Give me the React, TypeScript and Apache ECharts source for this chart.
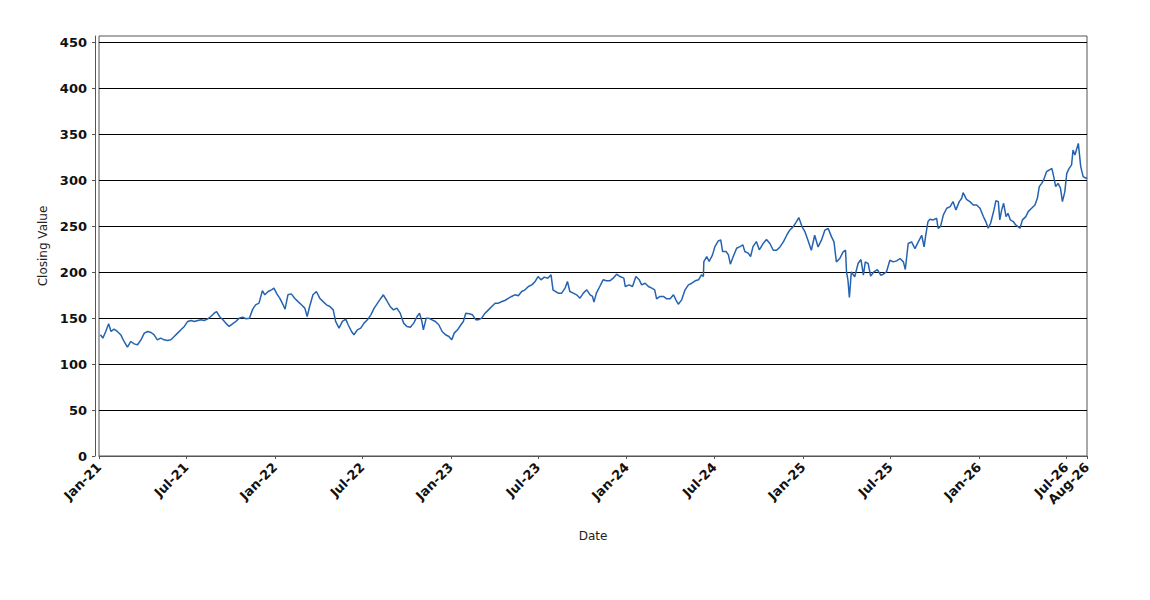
import React, { useEffect, useRef } from "react";
import * as echarts from "echarts";

// ---- data ----
const dates2021 = ["2021-01-04","2021-01-09","2021-01-15","2021-01-21","2021-01-26","2021-02-01","2021-02-08","2021-02-15","2021-02-22","2021-03-01","2021-03-08","2021-03-15","2021-03-22","2021-03-29","2021-04-05","2021-04-12","2021-04-19","2021-04-25","2021-05-02","2021-05-09","2021-05-16","2021-05-23","2021-05-30","2021-06-06","2021-06-13","2021-06-20","2021-06-27","2021-07-04","2021-07-11","2021-07-18","2021-07-25","2021-08-01","2021-08-07","2021-08-14","2021-08-21","2021-08-28","2021-09-02","2021-09-08","2021-09-15","2021-09-21","2021-09-28","2021-10-05","2021-10-12","2021-10-19","2021-10-26","2021-11-02","2021-11-09","2021-11-16","2021-11-22","2021-11-29","2021-12-06","2021-12-11","2021-12-18","2021-12-25","2021-12-30"];
const close2021 = [131.9,128.3,135.5,143.8,135.5,138,135.5,132,124.6,118.5,124.6,122,121,126.4,133.7,135.5,134.4,132,126.4,128.3,126.4,125.7,126.4,130,133.7,137.3,141,146.4,147.5,146.4,147.5,148.2,147.5,149,151.8,155.4,157.2,151.8,148.2,144.6,141,143.8,146.4,150,151,149.3,150,159.8,164.5,166.3,180,175.4,179,180.8,182.6];

const dates2022 = ["2022-01-05","2022-01-11","2022-01-18","2022-01-22","2022-01-28","2022-02-04","2022-02-11","2022-02-18","2022-02-25","2022-03-04","2022-03-09","2022-03-14","2022-03-21","2022-03-28","2022-04-04","2022-04-11","2022-04-18","2022-04-25","2022-05-02","2022-05-07","2022-05-14","2022-05-21","2022-05-28","2022-06-02","2022-06-09","2022-06-14","2022-06-21","2022-06-28","2022-07-05","2022-07-12","2022-07-19","2022-07-26","2022-08-02","2022-08-09","2022-08-14","2022-08-21","2022-08-28","2022-09-04","2022-09-11","2022-09-18","2022-09-25","2022-10-02","2022-10-09","2022-10-16","2022-10-23","2022-10-28","2022-11-02","2022-11-05","2022-11-11","2022-11-16","2022-11-23","2022-11-30","2022-12-07","2022-12-14","2022-12-21","2022-12-28"];
const close2022 = [176.4,171.7,164.5,159.8,175.4,176.4,171.7,168,164.5,160.9,151.8,162.7,175.4,179,171.7,168,164.5,162.7,159,146.4,139.1,146.4,148.9,142.8,135.5,131.9,137.3,139.1,144.6,148.2,153.6,160.9,166.3,171.7,175.4,169.2,162.7,159,160.9,155.4,144.6,141,140.2,144.6,151.8,155.4,146.4,137.3,150,150,148.2,146.4,142.8,135.5,131.9,130];

const dates2023 = ["2023-01-03","2023-01-08","2023-01-15","2023-01-22","2023-01-27","2023-02-01","2023-02-08","2023-02-15","2023-02-22","2023-02-27","2023-03-06","2023-03-13","2023-03-20","2023-03-27","2023-04-03","2023-04-10","2023-04-17","2023-04-23","2023-05-01","2023-05-07","2023-05-14","2023-05-21","2023-05-28","2023-06-04","2023-06-11","2023-06-18","2023-06-25","2023-07-01","2023-07-07","2023-07-14","2023-07-21","2023-07-28","2023-08-01","2023-08-06","2023-08-12","2023-08-19","2023-08-26","2023-08-31","2023-09-05","2023-09-12","2023-09-19","2023-09-26","2023-10-03","2023-10-10","2023-10-17","2023-10-22","2023-10-25","2023-10-30","2023-11-06","2023-11-13","2023-11-20","2023-11-27","2023-12-04","2023-12-11","2023-12-18","2023-12-26","2023-12-29"];
const close2023 = [126.4,133.7,137.3,142.8,146.4,155.4,154.7,153.6,148.2,148.2,150,155.4,159,162.7,166.3,166.3,168.1,169.2,171.7,173.6,175.4,174.3,179,180.8,184.4,186.2,189.9,195.3,191.7,194.6,193.5,197.1,180.8,179,177.2,177.2,182.6,189.9,179,177.2,175.4,171.7,177.2,180.8,175.4,173.6,167.4,177.2,184.4,191.7,190.6,190.6,193.5,197.8,195.3,193.5,184.4];

const dates2024 = ["2024-01-06","2024-01-13","2024-01-20","2024-01-27","2024-02-01","2024-02-08","2024-02-15","2024-02-22","2024-02-28","2024-03-03","2024-03-10","2024-03-17","2024-03-24","2024-03-31","2024-04-07","2024-04-12","2024-04-17","2024-04-24","2024-05-01","2024-05-08","2024-05-15","2024-05-22","2024-05-29","2024-06-04","2024-06-08","2024-06-09","2024-06-15","2024-06-20","2024-06-27","2024-07-02","2024-07-09","2024-07-14","2024-07-18","2024-07-25","2024-07-30","2024-08-03","2024-08-09","2024-08-16","2024-08-23","2024-08-29","2024-09-02","2024-09-09","2024-09-14","2024-09-19","2024-09-26","2024-10-02","2024-10-10","2024-10-17","2024-10-24","2024-10-31","2024-11-07","2024-11-14","2024-11-21","2024-11-28","2024-12-04","2024-12-11","2024-12-18","2024-12-23","2024-12-30"];
const close2024 = [186.2,184.4,195.3,191.7,186.2,188,184.4,182.6,180.8,171,173.6,173.6,171,171,175.4,169.9,165.2,169.9,180.8,186.2,188,190.6,191.7,197.1,195.3,211.6,217,211.6,218.8,227.9,234.1,235.1,222.5,222.5,218.8,208.7,217,226.1,227.9,229.7,222.5,220.7,217,227.9,233.3,224.3,231.2,235.5,231.2,223.9,223.9,227.5,233,240.2,245.7,249.3,254.7,259.4,249.3];

const dates2025 = ["2025-01-05","2025-01-11","2025-01-18","2025-01-25","2025-02-01","2025-02-08","2025-02-15","2025-02-22","2025-03-01","2025-03-06","2025-03-11","2025-03-18","2025-03-25","2025-03-30","2025-04-01","2025-04-04","2025-04-07","2025-04-11","2025-04-18","2025-04-25","2025-05-01","2025-05-06","2025-05-10","2025-05-16","2025-05-21","2025-05-28","2025-06-04","2025-06-11","2025-06-16","2025-06-23","2025-06-30","2025-07-07","2025-07-14","2025-07-21","2025-07-28","2025-08-01","2025-08-07","2025-08-14","2025-08-21","2025-08-28","2025-09-04","2025-09-09","2025-09-12","2025-09-17","2025-09-21","2025-09-28","2025-10-05","2025-10-08","2025-10-13","2025-10-19","2025-10-26","2025-11-02","2025-11-08","2025-11-14","2025-11-21","2025-11-26","2025-11-29","2025-12-06","2025-12-13","2025-12-20","2025-12-27"];
const close2025 = [243.8,234.8,223.9,240.2,227.5,234.8,245.7,247.5,238.4,233,211.2,214.9,222.1,223.9,200.4,191.3,172.5,200.4,194.9,209.4,213.8,196.7,211.2,209.4,195.7,200.4,202.9,196.7,197.8,200.4,213,211.2,212.3,214.9,211.2,202.9,231.2,233,225.7,233,240.2,227.5,238.8,255,257.6,256.9,258.7,247.8,249.6,262.3,269.6,271.4,276.8,267.8,276.8,280.4,286.6,279.3,276.8,273.2,273.2];

const dates2026 = ["2026-01-03","2026-01-10","2026-01-15","2026-01-20","2026-01-25","2026-02-01","2026-02-05","2026-02-10","2026-02-13","2026-02-17","2026-02-21","2026-02-26","2026-03-02","2026-03-07","2026-03-13","2026-03-18","2026-03-23","2026-03-27","2026-04-01","2026-04-08","2026-04-13","2026-04-20","2026-04-27","2026-05-02","2026-05-06","2026-05-11","2026-05-15","2026-05-21","2026-05-27","2026-06-01","2026-06-05","2026-06-09","2026-06-14","2026-06-19","2026-06-23","2026-06-28","2026-07-02","2026-07-07","2026-07-12","2026-07-15","2026-07-19","2026-07-22","2026-07-26","2026-07-31","2026-08-05","2026-08-11","2026-08-13"];
const close2026 = [269.6,260.5,255.1,247.8,253.3,267.8,277.9,276.8,256.9,267.8,275,260.5,264.1,256.9,255.1,251.4,249.6,247.8,256.9,260.5,265.9,269.6,273.2,280.4,293.1,296.7,300.4,309.4,311.2,313,304,293.1,296.7,291.3,276.8,287.7,307.6,313,316.7,333,327.5,333,340.2,314.9,304,302.2,303];

// axis ticks / labels
const xAxisStart = "2021-01-01";
const xAxisEnd = "2026-08-13";
const xTickDates = ["2021-01-01","2021-07-01","2022-01-01","2022-07-01","2023-01-01","2023-07-01","2024-01-01","2024-07-01","2025-01-01","2025-07-01","2026-01-01","2026-07-01","2026-08-13"];
const yTicks = [0, 50, 100, 150, 200, 250, 300, 350, 400, 450];
const MONTHS = ["Jan","Feb","Mar","Apr","May","Jun","Jul","Aug","Sep","Oct","Nov","Dec"];

function toTime(s: string): number {
  const [y, m, d] = s.split("-").map(Number);
  return new Date(y, m - 1, d).getTime();
}

const allDates = [...dates2021, ...dates2022, ...dates2023, ...dates2024, ...dates2025, ...dates2026];
const allClose = [...close2021, ...close2022, ...close2023, ...close2024, ...close2025, ...close2026];

export default function App() {
  const ref = useRef<HTMLDivElement>(null);
  useEffect(() => {
    if (!ref.current) return;
    const chart = echarts.init(ref.current, null, { renderer: "svg" });
    const font = "DejaVu Sans";
    const data = allDates.map((d, i) => [toTime(d), allClose[i]]);
    const xTicks = xTickDates.map(toTime);
    chart.setOption({
      animation: false,
      backgroundColor: "#ffffff",
      textStyle: { fontFamily: font },
      grid: {
        left: 99,
        top: 36,
        width: 988,
        height: 420,
        show: true,
        borderColor: "#555555",
        borderWidth: 1,
        backgroundColor: "#ffffff",
      },
      xAxis: {
        type: "value",
        min: toTime(xAxisStart),
        max: toTime(xAxisEnd),
        offset: 5,
        name: "Date",
        nameLocation: "middle",
        nameGap: 69,
        nameTextStyle: { fontSize: 12, color: "#222", fontFamily: font },
        axisLine: { show: true, lineStyle: { color: "#555555", width: 1 } },
        axisTick: {
          show: true,
          length: 3,
          lineStyle: { color: "#555555" },
          customValues: xTicks,
        },
        axisLabel: {
          rotate: 45,
          margin: 4,
          fontSize: 13,
          fontWeight: "bold",
          color: "#111",
          fontFamily: font,
          hideOverlap: false,
          showMinLabel: true,
          showMaxLabel: true,
          customValues: xTicks,
          formatter: (v: number) => {
            const d = new Date(v);
            return MONTHS[d.getMonth()] + "-" + String(d.getFullYear()).slice(2);
          },
        },
        splitLine: { show: false },
      },
      yAxis: {
        type: "value",
        min: 0,
        max: 457,
        interval: 50,
        offset: 4,
        name: "Closing Value",
        nameLocation: "middle",
        nameGap: 43,
        nameTextStyle: { fontSize: 12, color: "#222", fontFamily: font },
        axisLine: { show: true, lineStyle: { color: "#555555", width: 1 } },
        axisTick: {
          show: true,
          length: 3,
          lineStyle: { color: "#555555" },
          customValues: yTicks,
        },
        axisLabel: {
          margin: 8,
          fontSize: 13,
          fontWeight: "bold",
          color: "#111",
          fontFamily: font,
          customValues: yTicks,
          formatter: (v: number) => (v % 50 === 0 ? String(v) : ""),
        },
        splitLine: { show: true, lineStyle: { color: "#000000", width: 1 } },
      },
      series: [
        {
          type: "line",
          data,
          showSymbol: false,
          symbol: "none",
          lineStyle: { color: "#2563b0", width: 1.5 },
          itemStyle: { color: "#2563b0" },
        },
      ],
    });
    return () => chart.dispose();
  }, []);
  return (
    <div
      ref={ref}
      style={{ position: "fixed", left: 0, top: 0, width: 1150, height: 600, background: "#fff" }}
    />
  );
}
